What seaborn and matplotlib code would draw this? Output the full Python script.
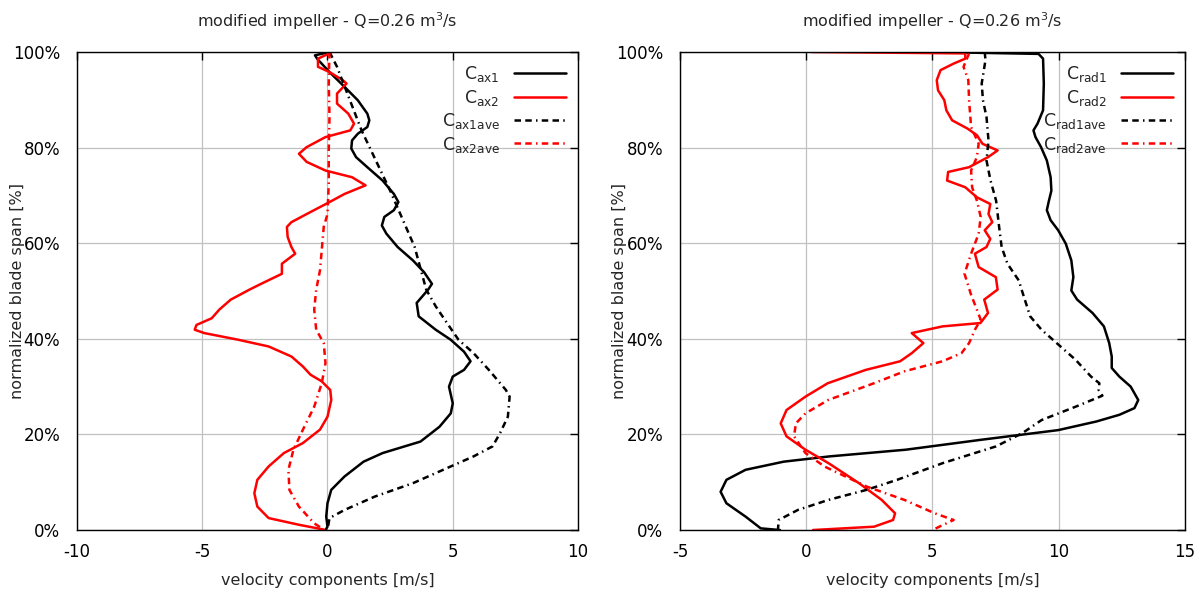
import numpy as np
import pandas as pd
import matplotlib
matplotlib.use("Agg")
import matplotlib.pyplot as plt
import seaborn as sns
from matplotlib.ticker import FuncFormatter

# ---------------- data (velocity [m/s], span [%]) ----------------
cax1_x = [0.1, -0.5, -0.4, 0.08, 0.68, 1.21, 1.59, 1.67, 1.59, 1.21, 0.98, 0.95, 1.14, 1.59, 2.2, 2.65, 2.83,
          2.65, 2.27, 2.17, 2.35, 2.8, 3.41, 3.86, 4.17, 4.02, 3.56, 3.64, 4.32, 4.92, 5.45, 5.71, 5.45, 5.0,
          4.85, 5.0, 4.92, 4.47, 3.71, 2.2, 1.44, 0.68, 0.15, 0.0, -0.05, 0.0, -0.08]
cax1_y = [100, 99.3, 98.5, 95.8, 92.7, 89.9, 87.1, 85.7, 84.3, 82.9, 81.5, 79.8, 78.0, 75.9, 73.1, 70.3, 68.6,
          66.9, 65.5, 63.7, 62.0, 59.2, 56.4, 53.9, 51.5, 50.3, 47.5, 44.7, 41.9, 39.8, 37.3, 35.3, 33.5, 32.1,
          30.0, 26.5, 24.4, 21.6, 18.5, 16.1, 14.3, 11.2, 8.4, 5.6, 2.8, 0.7, 0]

cax2_x = [0.11, -0.38, -0.38, 0.08, 0.61, 0.76, 0.38, 0.38, 0.83, 1.06, 0.91, -0.08, -0.83, -1.14, -0.83, -0.08,
          0.98, 1.52, 0.68, 0.08, -0.83, -1.44, -1.62, -1.59, -1.44, -1.29, -1.82, -1.82, -2.65, -3.11, -3.86,
          -4.32, -4.62, -5.23, -5.3, -4.92, -3.56, -2.35, -1.44, -0.98, -0.68, -0.23, 0.11, 0.15, 0.0, -0.3,
          -0.98, -1.74, -2.35, -2.8, -2.92, -2.8, -2.35, -1.14, -0.15]
cax2_y = [99.8, 98.6, 96.9, 95.8, 94.1, 93.4, 91.3, 89.2, 87.1, 85.0, 83.6, 82.2, 80.1, 78.7, 77.0, 75.2,
          73.8, 72.1, 70.3, 68.6, 66.1, 64.4, 63.4, 61.3, 59.2, 57.8, 55.7, 53.6, 51.5, 50.3, 48.2,
          46.1, 44.3, 42.9, 41.9, 41.2, 39.8, 38.4, 36.3, 34.2, 32.5, 31.1, 29.3, 27.2, 23.7, 21.0,
          18.2, 16.1, 13.3, 10.5, 7.7, 4.9, 2.5, 1.1, 0.1]

cax1ave_x = [0.08, 0.38, 1.36, 2.5, 3.48, 3.94, 4.32, 4.77, 5.23, 5.83, 6.44, 7.12, 7.27, 7.2, 6.89, 6.59,
             5.83, 4.92, 3.41, 1.89, 0.68, 0.08, 0.0]
cax1ave_y = [100, 96.9, 83.6, 71.0, 59.2, 50.3, 46.8, 43.3, 39.8, 37.0, 33.5, 29.3, 27.9, 23.7, 20.3, 17.5,
             15.4, 13.3, 9.8, 7.0, 4.2, 2.5, 0]

cax2ave_x = [0.08, 0.05, 0.08, 0.05, 0.05, 0.0, -0.15, -0.23, -0.3, -0.45, -0.53, -0.45, -0.15, -0.08,
             -0.23, -0.53, -0.98, -1.36, -1.56, -1.52, -1.14, -0.53, -0.15]
cax2ave_y = [100, 93.4, 86.4, 79.4, 72.4, 66.1, 63.4, 58.5, 54.3, 50.3, 46.1, 41.9, 39.1, 34.9,
             30.7, 25.8, 21.0, 16.8, 12.6, 8.4, 4.9, 1.4, 0.1]

crad1_x = [5.0, 9.2, 9.38, 9.41, 9.38, 9.16, 9.0, 9.08, 9.3, 9.53, 9.68, 9.71, 9.6, 9.53, 9.68, 9.98, 10.28,
           10.5, 10.58, 10.5, 10.73, 11.34, 11.79, 12.0, 12.1, 12.1, 12.4, 12.85, 13.15, 13.0, 12.4, 11.49,
           9.98, 6.96, 3.94, 0.92, -0.89, -2.4, -3.16, -3.39, -3.16, -2.4, -1.8, -1.04]
crad1_y = [100, 99.6, 98.6, 93.4, 87.8, 85.0, 83.6, 82.2, 80.1, 77.3, 73.8, 71.0, 68.6, 66.9, 64.8, 62.7, 59.9,
           56.4, 52.9, 50.1, 48.2, 45.4, 42.6, 39.1, 36.3, 33.9, 32.1, 30.0, 27.2, 25.5, 24.1, 22.7,
           20.9, 18.9, 16.8, 15.4, 14.3, 12.6, 10.5, 8.0, 5.6, 2.8, 0.35, 0]

crad2_x = [0.2, 6.3, 6.3, 5.85, 5.32, 5.17, 5.22, 5.47, 5.55, 5.78, 6.38, 6.76, 6.98, 7.58, 7.2, 6.45, 5.62,
           5.58, 6.3, 6.76, 7.29, 7.22, 7.37, 7.07, 7.29, 7.14, 6.68, 6.83, 7.51, 7.58, 7.05, 7.2, 6.9,
           5.4, 4.18, 4.64, 4.18, 3.72, 2.36, 0.85, -0.03, -0.78, -1.01, -0.78, -0.03, 0.88, 2.09, 2.99,
           3.52, 3.44, 2.69, 0.27]
crad2_y = [100, 99.7, 98.6, 97.6, 96.2, 94.1, 92.0, 89.9, 87.8, 85.7, 84.0, 82.6, 80.8, 79.4, 78.0, 75.9, 74.9,
           73.1, 71.7, 69.6, 68.2, 66.1, 64.4, 62.7, 60.9, 59.2, 57.8, 55.0, 52.9, 50.3, 48.2, 45.4, 43.3,
           42.6, 41.2, 39.1, 37.0, 35.3, 33.5, 30.7, 27.9, 25.1, 22.3, 19.6, 16.8, 14.0, 9.8, 6.3,
           3.5, 2.1, 0.7, 0]

crad1ave_x = [7.07, 7.1, 6.95, 7.0, 7.14, 7.22, 7.14, 7.3, 7.52, 7.64, 7.74, 7.97, 8.42, 8.53, 8.87, 9.32,
              9.92, 10.67, 11.28, 11.61, 11.58, 11.73, 10.67, 9.32, 8.57, 7.52, 5.41, 3.6, 2.39, 0.88,
              -0.33, -1.09, -1.12]
crad1ave_y = [100, 98.3, 93.4, 89.9, 86.4, 81.5, 77.3, 73.1, 68.9, 63.4, 59.2, 55.7, 52.2, 50.3, 44.7, 41.9,
              39.1, 35.6, 32.1, 30.7, 29.3, 28.1, 25.8, 23.0, 20.3, 17.5, 14.0, 10.5, 8.4, 6.3,
              4.2, 2.1, 0]

crad2ave_x = [6.45, 6.23, 6.42, 6.45, 6.53, 6.83, 6.76, 6.53, 6.57, 6.76, 6.91, 6.83, 6.53, 6.27, 6.53,
              6.76, 6.91, 6.68, 6.45, 6.15, 5.4, 3.89, 2.68, 0.87, -0.03, -0.41, -0.48, -0.03, 0.72,
              2.39, 3.89, 5.09, 5.84, 5.39, 5.0]
crad2ave_y = [99.7, 96.9, 94.1, 89.9, 84.3, 80.8, 78.0, 75.2, 71.7, 68.9, 65.5, 62.0, 57.8, 53.6, 49.2,
              46.1, 44.0, 41.9, 39.1, 37.0, 35.3, 33.2, 30.7, 27.2, 24.4, 22.3, 19.6, 16.1, 13.3,
              9.1, 6.3, 3.5, 2.1, 1.0, 0]

title_text = "modified impeller - Q=0.26 m$^3$/s"
xlabel_text = "velocity components [m/s]"
ylabel_text = "normalized blade span [%]"

# ---------------- plotting ----------------
sns.set_theme(style="white")
plt.rcParams['font.family'] = ['DejaVu Sans']
plt.rcParams['mathtext.fontset'] = 'dejavusans'

fig = plt.figure(figsize=(11.95, 5.94), dpi=100)
ax1 = fig.add_axes([0.0644, 0.1077, 0.4193, 0.8048])
ax2 = fig.add_axes([0.569, 0.1077, 0.4226, 0.8048])

dash = (0, (2.6, 1.7, 2.6, 1.7, 0.6, 1.7))
LW = 1.8

def draw(ax, series, xlim, xticks):
    for xs, ys, label, color, ls in series:
        sns.lineplot(x=xs, y=ys, ax=ax, sort=False, estimator=None, color=color,
                     linewidth=LW, linestyle=ls, label=label)
    ax.set_xlim(*xlim)
    ax.set_ylim(0, 100)
    ax.set_xticks(xticks)
    ax.set_yticks([0, 20, 40, 60, 80, 100])
    ax.yaxis.set_major_formatter(FuncFormatter(lambda v, p: f"{int(v)}%"))
    ax.xaxis.set_major_formatter(FuncFormatter(lambda v, p: f"{int(v)}"))
    ax.grid(True, color="#c0c0c0", linewidth=0.9)
    ax.set_axisbelow(True)
    for s in ax.spines.values():
        s.set_color("black")
        s.set_linewidth(1.0)
    ax.tick_params(direction="in", length=6, width=1, top=True, right=True,
                   labelsize=12, colors="black")
    ax.tick_params(axis="y", pad=12)
    ax.tick_params(axis="x", pad=9)
    ax.set_title(title_text, fontsize=11.5, pad=18)
    ax.set_xlabel(xlabel_text, fontsize=11.5, labelpad=9)
    ax.set_ylabel(ylabel_text, fontsize=11.5)
    ax.yaxis.set_label_coords(-0.104, 0.5)
    leg = ax.legend(loc="upper right", frameon=False, markerfirst=False, fontsize=12.5,
                    handlelength=3.0, labelspacing=0.2, borderaxespad=0.3, handletextpad=0.8)
    for t in leg.get_texts():
        t.set_ha("right")
    leg._legend_box.align = "right"

draw(ax1, [
    (cax1_x, cax1_y, r"C$_{\mathrm{ax1}}$", "black", "-"),
    (cax2_x, cax2_y, r"C$_{\mathrm{ax2}}$", "red", "-"),
    (cax1ave_x, cax1ave_y, r"C$_{\mathrm{ax1ave}}$", "black", dash),
    (cax2ave_x, cax2ave_y, r"C$_{\mathrm{ax2ave}}$", "red", dash),
], (-10, 10), [-10, -5, 0, 5, 10])

draw(ax2, [
    (crad1_x, crad1_y, r"C$_{\mathrm{rad1}}$", "black", "-"),
    (crad2_x, crad2_y, r"C$_{\mathrm{rad2}}$", "red", "-"),
    (crad1ave_x, crad1ave_y, r"C$_{\mathrm{rad1ave}}$", "black", dash),
    (crad2ave_x, crad2ave_y, r"C$_{\mathrm{rad2ave}}$", "red", dash),
], (-5, 15), [-5, 0, 5, 10, 15])

fig.savefig("out.png", dpi=100)
